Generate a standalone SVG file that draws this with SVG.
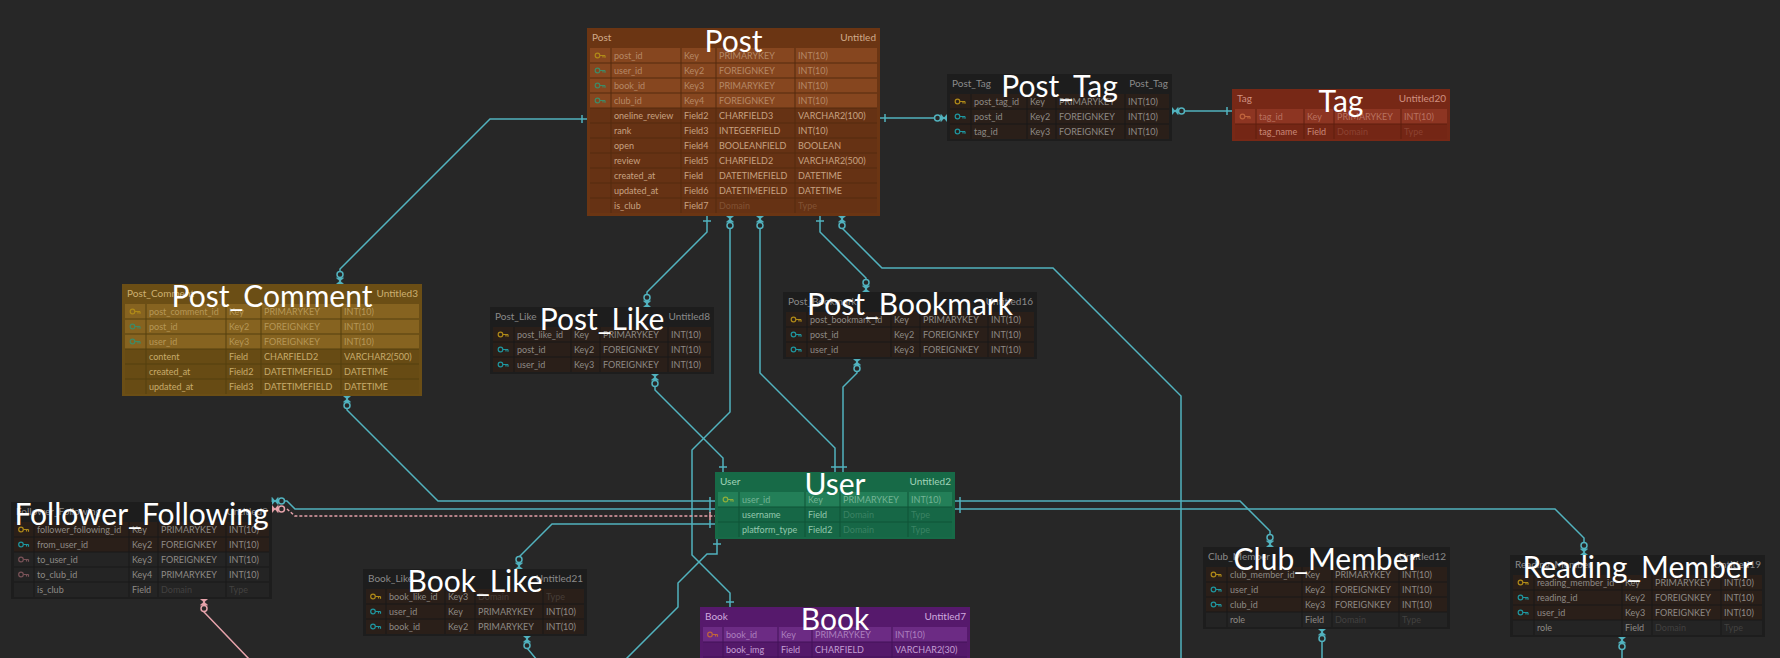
<svg xmlns="http://www.w3.org/2000/svg" xmlns:xlink="http://www.w3.org/1999/xlink" width="1780" height="658" viewBox="0 0 1780 658">
<style>
text{font-family:Lato,"Noto Sans","DejaVu Sans",sans-serif}
.lbl{font-size:30px;fill:#ffffff;text-anchor:middle}
.hd{font-size:10px;fill:var(--h)}
.r{text-anchor:end}
.tx{font-size:9px;fill:var(--t)}
.kt{opacity:.72}
.ph{opacity:.28}
.body{fill:var(--b)}
.kr{fill:var(--k)}
.nr{fill:var(--n)}
.grid{fill:none;stroke:var(--g);stroke-width:1}
.t-dark{--b:#1d1d1d;--k:#2a1f19;--n:#242424;--g:#181818;--t:#8e8a86;--h:#8a8a8a}
.t-post{--b:#6b3513;--k:#86461f;--n:#663214;--g:#552a0f;--t:#c8a282;--h:#d0aa8a}
.t-pc{--b:#6b4e15;--k:#866320;--n:#674b14;--g:#54400f;--t:#c8ab6c;--h:#cdb070}
.t-tag{--b:#772816;--k:#8d3522;--n:#742615;--g:#5e1e0f;--t:#c98878;--h:#d09080}
.t-user{--b:#176a47;--k:#237f58;--n:#166746;--g:#0e5536;--t:#93c8ad;--h:#a0d4b8}
.t-book{--b:#56196c;--k:#6c2b84;--n:#54196a;--g:#431258;--t:#c49fd4;--h:#cfaadf}
.pk{color:#b08a18}.fk{color:#1f97a0}.gk{color:#3f8a66}.mk{color:#7a5358}.ok{color:#c0643c}.yk{color:#8fae3a}
.conn path{fill:none;stroke:#52b3bf;stroke-width:1.5}
.conn path.pink{stroke:#e6a3ab}
.conn path.dash{stroke-dasharray:3 2}
.ends{color:#52b3bf}
.ends .pkc{color:#e6a3ab}
</style>
<defs>
<g id="key"><circle cx="-3" cy="0" r="2.3" fill="none" stroke="currentColor" stroke-width="1.2"/><path d="M-0.7,0H4.5M2.5,0V2M4.5,0V2.2" fill="none" stroke="currentColor" stroke-width="1.2"/></g>
<g id="one"><path d="M-4,-5H4" fill="none" stroke="currentColor" stroke-width="1.5"/></g>
<g id="many"><path d="M-3.5,0H3.5L-3.5,-6H3.5Z" fill="currentColor" stroke="currentColor" stroke-width="0.8"/><circle cx="0" cy="-9.5" r="3" fill="#272727" stroke="currentColor" stroke-width="1.5"/></g>
</defs>
<rect width="1780" height="658" fill="#272727"/>

<g id="connectors" class="conn">
<path d="M587,119H490L340,269V284"/>
<path d="M880,118H947"/>
<path d="M1172,111H1232"/>
<path d="M707,216V232L647,292V307"/>
<path d="M730,216V412L692,450V555L730,593V607"/>
<path d="M760,216V373L835,448V472"/>
<path d="M820,216V232L866,278V292"/>
<path d="M842,216V228L882,268H1053L1181,396V660"/>
<path d="M655,374V390L723,458V472"/>
<path d="M857,359V373L843,387V472"/>
<path d="M347,396V410L438,501H715"/>
<path d="M272,501H287L295,509H715"/>
<path class="pink dash" d="M272,509H287L295,516H715"/>
<path d="M519,569V557L552,524H715"/>
<path d="M717,539V554H707L678,583V607L625,660"/>
<path d="M955,501H1240L1270,531V547"/>
<path d="M955,509H1555L1584,538V555"/>
<path d="M1322,629V660"/>
<path d="M1622,637V660"/>
<path d="M527,636V648L537,660"/>
<path class="pink" d="M204,599V612L250,660"/>
<g class="ends">
<use xlink:href="#one" transform="translate(587,119) rotate(-90)"/>
<use xlink:href="#many" transform="translate(340,284)"/>
<use xlink:href="#one" transform="translate(880,118) rotate(90)"/>
<use xlink:href="#many" transform="translate(947,118) rotate(-90)"/>
<use xlink:href="#many" transform="translate(1172,111) rotate(90)"/>
<use xlink:href="#one" transform="translate(1232,111) rotate(-90)"/>
<use xlink:href="#one" transform="translate(707,216) rotate(180)"/>
<use xlink:href="#many" transform="translate(647,307)"/>
<use xlink:href="#many" transform="translate(730,216) rotate(180)"/>
<use xlink:href="#one" transform="translate(730,607)"/>
<use xlink:href="#many" transform="translate(760,216) rotate(180)"/>
<use xlink:href="#one" transform="translate(835,472)"/>
<use xlink:href="#one" transform="translate(820,216) rotate(180)"/>
<use xlink:href="#many" transform="translate(866,292)"/>
<use xlink:href="#many" transform="translate(842,216) rotate(180)"/>
<use xlink:href="#many" transform="translate(655,374) rotate(180)"/>
<use xlink:href="#one" transform="translate(723,472)"/>
<use xlink:href="#many" transform="translate(857,359) rotate(180)"/>
<use xlink:href="#one" transform="translate(843,472)"/>
<use xlink:href="#many" transform="translate(347,396) rotate(180)"/>
<use xlink:href="#one" transform="translate(715,501) rotate(-90)"/>
<use xlink:href="#many" transform="translate(272,501) rotate(90)"/>
<use xlink:href="#one" transform="translate(715,509) rotate(-90)"/>
<use class="pkc" xlink:href="#many" transform="translate(272,509) rotate(90)"/>
<use class="pkc" xlink:href="#one" transform="translate(715,516) rotate(-90)"/>
<use xlink:href="#many" transform="translate(519,569)"/>
<use xlink:href="#one" transform="translate(715,524) rotate(-90)"/>
<use xlink:href="#one" transform="translate(717,539) rotate(180)"/>
<use xlink:href="#one" transform="translate(955,501) rotate(90)"/>
<use xlink:href="#many" transform="translate(1270,547)"/>
<use xlink:href="#one" transform="translate(955,509) rotate(90)"/>
<use xlink:href="#many" transform="translate(1584,555)"/>
<use xlink:href="#many" transform="translate(1322,629) rotate(180)"/>
<use xlink:href="#many" transform="translate(1622,637) rotate(180)"/>
<use xlink:href="#many" transform="translate(527,636) rotate(180)"/>
<use class="pkc" xlink:href="#many" transform="translate(204,599) rotate(180)"/>
</g>
</g>

<g id="node-post" class="t-post" transform="translate(587,28)">
<rect class="body" width="293" height="188"/>
<rect class="kr" x="3" y="20" width="287" height="60"/>
<rect class="nr" x="3" y="80" width="287" height="105"/>
<path class="grid" d="M3,35H290M3,50H290M3,65H290M3,80H290M3,95H290M3,110H290M3,125H290M3,140H290M3,155H290M3,170H290M24,20V185M94,20V185M129,20V185M208,20V185"/>
<text class="hd" x="5" y="13">Post</text><text class="hd r" x="289" y="13">Untitled</text>
<use xlink:href="#key" class="pk" x="13.5" y="27.5"/><use xlink:href="#key" class="gk" x="13.5" y="42.5"/><use xlink:href="#key" class="gk" x="13.5" y="57.5"/><use xlink:href="#key" class="gk" x="13.5" y="72.5"/>
<text class="tx kt" y="31"><tspan x="27">post_id</tspan><tspan x="97">Key</tspan><tspan x="132">PRIMARYKEY</tspan><tspan x="211">INT(10)</tspan></text>
<text class="tx kt" y="46"><tspan x="27">user_id</tspan><tspan x="97">Key2</tspan><tspan x="132">FOREIGNKEY</tspan><tspan x="211">INT(10)</tspan></text>
<text class="tx kt" y="61"><tspan x="27">book_id</tspan><tspan x="97">Key3</tspan><tspan x="132">PRIMARYKEY</tspan><tspan x="211">INT(10)</tspan></text>
<text class="tx kt" y="76"><tspan x="27">club_id</tspan><tspan x="97">Key4</tspan><tspan x="132">FOREIGNKEY</tspan><tspan x="211">INT(10)</tspan></text>
<text class="tx" y="91"><tspan x="27">oneline_review</tspan><tspan x="97">Field2</tspan><tspan x="132">CHARFIELD3</tspan><tspan x="211">VARCHAR2(100)</tspan></text>
<text class="tx" y="106"><tspan x="27">rank</tspan><tspan x="97">Field3</tspan><tspan x="132">INTEGERFIELD</tspan><tspan x="211">INT(10)</tspan></text>
<text class="tx" y="121"><tspan x="27">open</tspan><tspan x="97">Field4</tspan><tspan x="132">BOOLEANFIELD</tspan><tspan x="211">BOOLEAN</tspan></text>
<text class="tx" y="136"><tspan x="27">review</tspan><tspan x="97">Field5</tspan><tspan x="132">CHARFIELD2</tspan><tspan x="211">VARCHAR2(500)</tspan></text>
<text class="tx" y="151"><tspan x="27">created_at</tspan><tspan x="97">Field</tspan><tspan x="132">DATETIMEFIELD</tspan><tspan x="211">DATETIME</tspan></text>
<text class="tx" y="166"><tspan x="27">updated_at</tspan><tspan x="97">Field6</tspan><tspan x="132">DATETIMEFIELD</tspan><tspan x="211">DATETIME</tspan></text>
<text class="tx" y="181"><tspan x="27">is_club</tspan><tspan x="97">Field7</tspan><tspan class="ph" x="132">Domain</tspan><tspan class="ph" x="211">Type</tspan></text>
<text class="lbl" x="146.5" y="24">Post</text>
</g>

<g id="node-post-tag" class="t-dark" transform="translate(947,74)">
<rect class="body" width="225" height="67"/>
<rect class="kr" x="3" y="20" width="219" height="45"/>
<path class="grid" d="M3,35H222M3,50H222M24,20V65M80,20V65M109,20V65M178,20V65"/>
<text class="hd" x="5" y="13">Post_Tag</text><text class="hd r" x="221" y="13">Post_Tag</text>
<use xlink:href="#key" class="pk" x="13.5" y="27.5"/><use xlink:href="#key" class="fk" x="13.5" y="42.5"/><use xlink:href="#key" class="fk" x="13.5" y="57.5"/>
<text class="tx" y="31"><tspan x="27">post_tag_id</tspan><tspan x="83">Key</tspan><tspan x="112">PRIMARYKEY</tspan><tspan x="181">INT(10)</tspan></text>
<text class="tx" y="46"><tspan x="27">post_id</tspan><tspan x="83">Key2</tspan><tspan x="112">FOREIGNKEY</tspan><tspan x="181">INT(10)</tspan></text>
<text class="tx" y="61"><tspan x="27">tag_id</tspan><tspan x="83">Key3</tspan><tspan x="112">FOREIGNKEY</tspan><tspan x="181">INT(10)</tspan></text>
<text class="lbl" x="112.5" y="23">Post_Tag</text>
</g>

<g id="node-tag" class="t-tag" transform="translate(1232,89)">
<rect class="body" width="218" height="52"/>
<rect class="kr" x="3" y="20" width="212" height="15"/>
<rect class="nr" x="3" y="35" width="212" height="15"/>
<path class="grid" d="M3,35H215M24,20V50M72,20V50M102,20V50M169,20V50"/>
<text class="hd" x="5" y="13">Tag</text><text class="hd r" x="214" y="13">Untitled20</text>
<use xlink:href="#key" class="ok" x="13.5" y="27.5"/>
<text class="tx kt" y="31"><tspan x="27">tag_id</tspan><tspan x="75">Key</tspan><tspan x="105">PRIMARYKEY</tspan><tspan x="172">INT(10)</tspan></text>
<text class="tx" y="46"><tspan x="27">tag_name</tspan><tspan x="75">Field</tspan><tspan class="ph" x="105">Domain</tspan><tspan class="ph" x="172">Type</tspan></text>
<text class="lbl" x="109" y="23">Tag</text>
</g>

<g id="node-post-comment" class="t-pc" transform="translate(122,284)">
<rect class="body" width="300" height="112"/>
<rect class="kr" x="3" y="20" width="294" height="45"/>
<rect class="nr" x="3" y="65" width="294" height="45"/>
<path class="grid" d="M3,35H297M3,50H297M3,65H297M3,80H297M3,95H297M24,20V110M104,20V110M139,20V110M219,20V110"/>
<text class="hd" x="5" y="13">Post_Comment</text><text class="hd r" x="296" y="13">Untitled3</text>
<use xlink:href="#key" class="pk" x="13.5" y="27.5"/><use xlink:href="#key" class="gk" x="13.5" y="42.5"/><use xlink:href="#key" class="gk" x="13.5" y="57.5"/>
<text class="tx kt" y="31"><tspan x="27">post_comment_id</tspan><tspan x="107">Key</tspan><tspan x="142">PRIMARYKEY</tspan><tspan x="222">INT(10)</tspan></text>
<text class="tx kt" y="46"><tspan x="27">post_id</tspan><tspan x="107">Key2</tspan><tspan x="142">FOREIGNKEY</tspan><tspan x="222">INT(10)</tspan></text>
<text class="tx kt" y="61"><tspan x="27">user_id</tspan><tspan x="107">Key3</tspan><tspan x="142">FOREIGNKEY</tspan><tspan x="222">INT(10)</tspan></text>
<text class="tx" y="76"><tspan x="27">content</tspan><tspan x="107">Field</tspan><tspan x="142">CHARFIELD2</tspan><tspan x="222">VARCHAR2(500)</tspan></text>
<text class="tx" y="91"><tspan x="27">created_at</tspan><tspan x="107">Field2</tspan><tspan x="142">DATETIMEFIELD</tspan><tspan x="222">DATETIME</tspan></text>
<text class="tx" y="106"><tspan x="27">updated_at</tspan><tspan x="107">Field3</tspan><tspan x="142">DATETIMEFIELD</tspan><tspan x="222">DATETIME</tspan></text>
<text class="lbl" x="150" y="23">Post_Comment</text>
</g>

<g id="node-post-like" class="t-dark" transform="translate(490,307)">
<rect class="body" width="224" height="67"/>
<rect class="kr" x="3" y="20" width="218" height="45"/>
<path class="grid" d="M3,35H221M3,50H221M24,20V65M81,20V65M110,20V65M178,20V65"/>
<text class="hd" x="5" y="13">Post_Like</text><text class="hd r" x="220" y="13">Untitled8</text>
<use xlink:href="#key" class="pk" x="13.5" y="27.5"/><use xlink:href="#key" class="fk" x="13.5" y="42.5"/><use xlink:href="#key" class="fk" x="13.5" y="57.5"/>
<text class="tx" y="31"><tspan x="27">post_like_id</tspan><tspan x="84">Key</tspan><tspan x="113">PRIMARYKEY</tspan><tspan x="181">INT(10)</tspan></text>
<text class="tx" y="46"><tspan x="27">post_id</tspan><tspan x="84">Key2</tspan><tspan x="113">FOREIGNKEY</tspan><tspan x="181">INT(10)</tspan></text>
<text class="tx" y="61"><tspan x="27">user_id</tspan><tspan x="84">Key3</tspan><tspan x="113">FOREIGNKEY</tspan><tspan x="181">INT(10)</tspan></text>
<text class="lbl" x="112" y="23">Post_Like</text>
</g>

<g id="node-post-bookmark" class="t-dark" transform="translate(783,292)">
<rect class="body" width="254" height="67"/>
<rect class="kr" x="3" y="20" width="248" height="45"/>
<path class="grid" d="M3,35H251M3,50H251M24,20V65M108,20V65M137,20V65M205,20V65"/>
<text class="hd" x="5" y="13">Post_Bookmark</text><text class="hd r" x="250" y="13">Untitled16</text>
<use xlink:href="#key" class="pk" x="13.5" y="27.5"/><use xlink:href="#key" class="fk" x="13.5" y="42.5"/><use xlink:href="#key" class="fk" x="13.5" y="57.5"/>
<text class="tx" y="31"><tspan x="27">post_bookmark_id</tspan><tspan x="111">Key</tspan><tspan x="140">PRIMARYKEY</tspan><tspan x="208">INT(10)</tspan></text>
<text class="tx" y="46"><tspan x="27">post_id</tspan><tspan x="111">Key2</tspan><tspan x="140">FOREIGNKEY</tspan><tspan x="208">INT(10)</tspan></text>
<text class="tx" y="61"><tspan x="27">user_id</tspan><tspan x="111">Key3</tspan><tspan x="140">FOREIGNKEY</tspan><tspan x="208">INT(10)</tspan></text>
<text class="lbl" x="127" y="23">Post_Bookmark</text>
</g>

<g id="node-follower-following" class="t-dark" transform="translate(11,502)">
<rect class="body" width="261" height="97"/>
<rect class="kr" x="3" y="20" width="255" height="30"/>
<rect class="nr" x="3" y="50" width="255" height="45"/>
<path class="grid" d="M3,35H258M3,50H258M3,65H258M3,80H258M23,20V95M118,20V95M147,20V95M215,20V95"/>
<text class="hd" x="5" y="13">Follower_Following</text><text class="hd r" x="257" y="13">Untitled9</text>
<use xlink:href="#key" class="pk" x="13" y="27.5"/><use xlink:href="#key" class="fk" x="13" y="42.5"/><use xlink:href="#key" class="mk" x="13" y="57.5"/><use xlink:href="#key" class="mk" x="13" y="72.5"/>
<text class="tx" y="31"><tspan x="26">follower_following_id</tspan><tspan x="121">Key</tspan><tspan x="150">PRIMARYKEY</tspan><tspan x="218">INT(10)</tspan></text>
<text class="tx" y="46"><tspan x="26">from_user_id</tspan><tspan x="121">Key2</tspan><tspan x="150">FOREIGNKEY</tspan><tspan x="218">INT(10)</tspan></text>
<text class="tx" y="61"><tspan x="26">to_user_id</tspan><tspan x="121">Key3</tspan><tspan x="150">FOREIGNKEY</tspan><tspan x="218">INT(10)</tspan></text>
<text class="tx" y="76"><tspan x="26">to_club_id</tspan><tspan x="121">Key4</tspan><tspan x="150">PRIMARYKEY</tspan><tspan x="218">INT(10)</tspan></text>
<text class="tx" y="91"><tspan x="26">is_club</tspan><tspan x="121">Field</tspan><tspan class="ph" x="150">Domain</tspan><tspan class="ph" x="218">Type</tspan></text>
<text class="lbl" x="130.5" y="23">Follower_Following</text>
</g>

<g id="node-user" class="t-user" transform="translate(715,472)">
<rect class="body" width="240" height="67"/>
<rect class="kr" x="3" y="20" width="234" height="15"/>
<rect class="nr" x="3" y="35" width="234" height="30"/>
<path class="grid" d="M3,35H237M3,50H237M24,20V65M90,20V65M125,20V65M193,20V65"/>
<text class="hd" x="5" y="13">User</text><text class="hd r" x="236" y="13">Untitled2</text>
<use xlink:href="#key" class="yk" x="13.5" y="27.5"/>
<text class="tx kt" y="31"><tspan x="27">user_id</tspan><tspan x="93">Key</tspan><tspan x="128">PRIMARYKEY</tspan><tspan x="196">INT(10)</tspan></text>
<text class="tx" y="46"><tspan x="27">username</tspan><tspan x="93">Field</tspan><tspan class="ph" x="128">Domain</tspan><tspan class="ph" x="196">Type</tspan></text>
<text class="tx" y="61"><tspan x="27">platform_type</tspan><tspan x="93">Field2</tspan><tspan class="ph" x="128">Domain</tspan><tspan class="ph" x="196">Type</tspan></text>
<text class="lbl" x="120" y="23">User</text>
</g>

<g id="node-book-like" class="t-dark" transform="translate(363,569)">
<rect class="body" width="224" height="67"/>
<rect class="kr" x="3" y="20" width="218" height="45"/>
<path class="grid" d="M3,35H221M3,50H221M23,20V65M82,20V65M112,20V65M180,20V65"/>
<text class="hd" x="5" y="13">Book_Like</text><text class="hd r" x="220" y="13">Untitled21</text>
<use xlink:href="#key" class="pk" x="13" y="27.5"/><use xlink:href="#key" class="fk" x="13" y="42.5"/><use xlink:href="#key" class="fk" x="13" y="57.5"/>
<text class="tx" y="31"><tspan x="26">book_like_id</tspan><tspan x="85">Key3</tspan><tspan class="ph" x="115">Domain</tspan><tspan class="ph" x="183">Type</tspan></text>
<text class="tx" y="46"><tspan x="26">user_id</tspan><tspan x="85">Key</tspan><tspan x="115">PRIMARYKEY</tspan><tspan x="183">INT(10)</tspan></text>
<text class="tx" y="61"><tspan x="26">book_id</tspan><tspan x="85">Key2</tspan><tspan x="115">PRIMARYKEY</tspan><tspan x="183">INT(10)</tspan></text>
<text class="lbl" x="112" y="23">Book_Like</text>
</g>

<g id="node-book" class="t-book" transform="translate(700,607)">
<rect class="body" width="270" height="82"/>
<rect class="kr" x="3" y="20" width="264" height="15"/>
<rect class="nr" x="3" y="35" width="264" height="45"/>
<path class="grid" d="M3,35H267M3,50H267M3,65H267M23,20V80M78,20V80M112,20V80M192,20V80"/>
<text class="hd" x="5" y="13">Book</text><text class="hd r" x="266" y="13">Untitled7</text>
<use xlink:href="#key" class="ok" x="13" y="27.5"/>
<text class="tx kt" y="31"><tspan x="26">book_id</tspan><tspan x="81">Key</tspan><tspan x="115">PRIMARYKEY</tspan><tspan x="195">INT(10)</tspan></text>
<text class="tx" y="46"><tspan x="26">book_img</tspan><tspan x="81">Field</tspan><tspan x="115">CHARFIELD</tspan><tspan x="195">VARCHAR2(30)</tspan></text>
<text class="lbl" x="135" y="23">Book</text>
</g>

<g id="node-club-member" class="t-dark" transform="translate(1203,547)">
<rect class="body" width="247" height="82"/>
<rect class="kr" x="3" y="20" width="241" height="45"/>
<rect class="nr" x="3" y="65" width="241" height="15"/>
<path class="grid" d="M3,35H244M3,50H244M3,65H244M24,20V80M99,20V80M129,20V80M196,20V80"/>
<text class="hd" x="5" y="13">Club_Member</text><text class="hd r" x="243" y="13">Untitled12</text>
<use xlink:href="#key" class="pk" x="13.5" y="27.5"/><use xlink:href="#key" class="fk" x="13.5" y="42.5"/><use xlink:href="#key" class="fk" x="13.5" y="57.5"/>
<text class="tx" y="31"><tspan x="27">club_member_id</tspan><tspan x="102">Key</tspan><tspan x="132">PRIMARYKEY</tspan><tspan x="199">INT(10)</tspan></text>
<text class="tx" y="46"><tspan x="27">user_id</tspan><tspan x="102">Key2</tspan><tspan x="132">FOREIGNKEY</tspan><tspan x="199">INT(10)</tspan></text>
<text class="tx" y="61"><tspan x="27">club_id</tspan><tspan x="102">Key3</tspan><tspan x="132">FOREIGNKEY</tspan><tspan x="199">INT(10)</tspan></text>
<text class="tx" y="76"><tspan x="27">role</tspan><tspan x="102">Field</tspan><tspan class="ph" x="132">Domain</tspan><tspan class="ph" x="199">Type</tspan></text>
<text class="lbl" x="123.5" y="23">Club_Member</text>
</g>

<g id="node-reading-member" class="t-dark" transform="translate(1510,555)">
<rect class="body" width="255" height="82"/>
<rect class="kr" x="3" y="20" width="249" height="45"/>
<rect class="nr" x="3" y="65" width="249" height="15"/>
<path class="grid" d="M3,35H252M3,50H252M3,65H252M24,20V80M112,20V80M142,20V80M211,20V80"/>
<text class="hd" x="5" y="13">Reading_Member</text><text class="hd r" x="251" y="13">Untitled19</text>
<use xlink:href="#key" class="pk" x="13.5" y="27.5"/><use xlink:href="#key" class="fk" x="13.5" y="42.5"/><use xlink:href="#key" class="fk" x="13.5" y="57.5"/>
<text class="tx" y="31"><tspan x="27">reading_member_id</tspan><tspan x="115">Key</tspan><tspan x="145">PRIMARYKEY</tspan><tspan x="214">INT(10)</tspan></text>
<text class="tx" y="46"><tspan x="27">reading_id</tspan><tspan x="115">Key2</tspan><tspan x="145">FOREIGNKEY</tspan><tspan x="214">INT(10)</tspan></text>
<text class="tx" y="61"><tspan x="27">user_id</tspan><tspan x="115">Key3</tspan><tspan x="145">FOREIGNKEY</tspan><tspan x="214">INT(10)</tspan></text>
<text class="tx" y="76"><tspan x="27">role</tspan><tspan x="115">Field</tspan><tspan class="ph" x="145">Domain</tspan><tspan class="ph" x="214">Type</tspan></text>
<text class="lbl" x="127.5" y="23">Reading_Member</text>
</g>
</svg>
